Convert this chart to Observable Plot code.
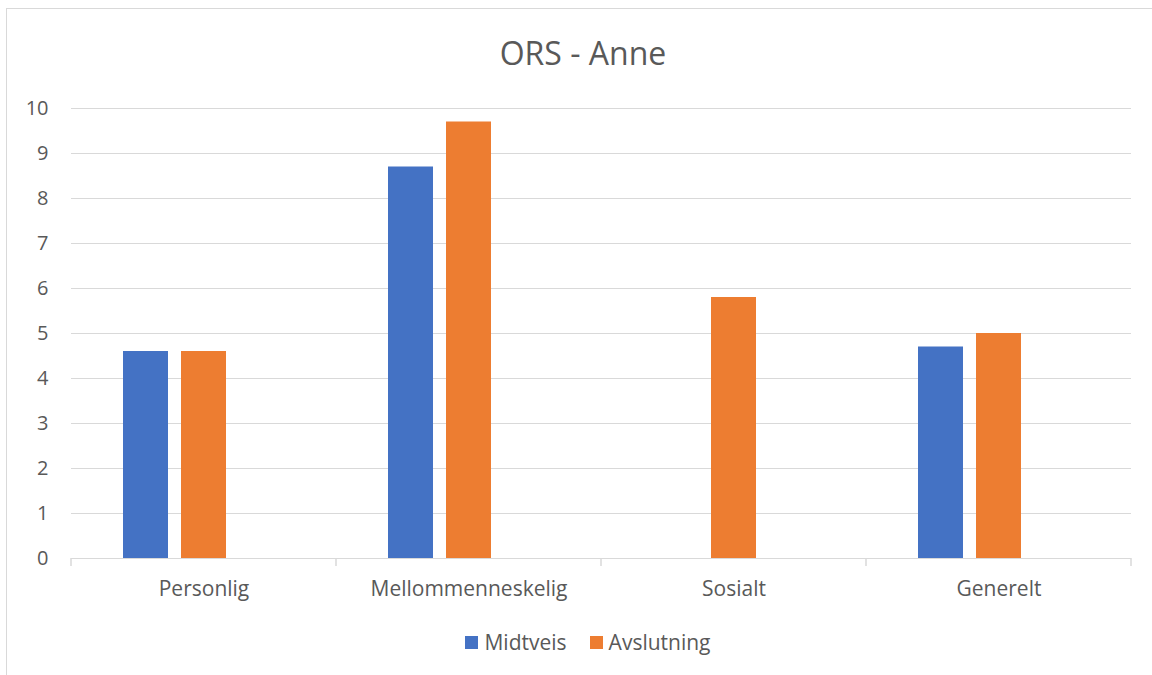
<!DOCTYPE html>
<html>
<head>
<meta charset="utf-8">
<script src="https://cdn.jsdelivr.net/npm/d3@7"></script>
<script src="https://cdn.jsdelivr.net/npm/@observablehq/plot@0.6"></script>
<style>
  body { margin: 0; background: #fff; font-family: "Open Sans", sans-serif; }
  #wrap { position: relative; width: 1152px; height: 675px; overflow: hidden; background: #fff; }
  #border { position: absolute; left: 6px; top: 8px; width: 1300px; height: 800px; border: 1px solid #d9d9d9; box-sizing: border-box; }
  #title { position: absolute; left: 0; width: 1166px; top: 33px; text-align: center; font-size: 32px; color: #595959; line-height: 40px; }
  #chart { position: absolute; left: 0; top: 0; }
  #legend { position: absolute; top: 629px; left: 0; width: 1176px; display: flex; justify-content: center; align-items: center; gap: 23px; font-size: 21px; color: #595959; line-height: 26px; }
  .item { display: flex; align-items: center; gap: 6px; }
  .sw { width: 13px; height: 13px; display: inline-block; }
</style>
</head>
<body>
<div id="wrap">
  <div id="border"></div>
  <div id="chart"></div>
  <div id="title"></div>
  <div id="legend"></div>
</div>
<script>
// ---- data ----
const chartTitle = "ORS - Anne";
const categories = ["Personlig", "Mellommenneskelig", "Sosialt", "Generelt"];
const seriesNames = ["Midtveis", "Avslutning"];
const midtveis = [4.6, 8.7, null, 4.7];
const avslutning = [4.6, 9.7, 5.8, 5.0];
const yTicks = [0, 1, 2, 3, 4, 5, 6, 7, 8, 9, 10];
const seriesColors = ["#4472C4", "#ED7D31"];
const emptySlot = ""; // unused third series slot kept by the original chart

const rows = [];
categories.forEach((c, i) => {
  if (midtveis[i] != null) rows.push({category: c, series: seriesNames[0], value: midtveis[i]});
  if (avslutning[i] != null) rows.push({category: c, series: seriesNames[1], value: avslutning[i]});
});

document.getElementById("title").textContent = chartTitle;

const plot = Plot.plot({
  width: 1152,
  height: 620,
  marginLeft: 71,
  marginRight: 21,
  marginTop: 108,
  marginBottom: 62,
  style: {fontFamily: "'Open Sans', sans-serif", fontSize: "20px", color: "#595959", background: "transparent", overflow: "visible"},
  fx: {domain: categories, padding: 0, label: null},
  x: {domain: [...seriesNames, emptySlot], paddingInner: 0.22, paddingOuter: 0.856, axis: null},
  y: {domain: [0, 10], label: null},
  color: {domain: seriesNames, range: seriesColors},
  marks: [
    Plot.gridY(yTicks, {stroke: "#d9d9d9", strokeOpacity: 1, strokeWidth: 1.2}),
    Plot.axisY(yTicks, {tickSize: 0, tickPadding: 23, fontSize: 20, fill: "#595959", label: null}),
    Plot.axisFx({anchor: "bottom", tickSize: 0, tickPadding: 23, fontSize: 21, fill: "#595959", label: null}),
    Plot.barY(rows, {fx: "category", x: "series", y: "value", fill: "series"})
  ]
});
document.getElementById("chart").appendChild(plot);

// category boundary tick marks under the baseline (Excel style), placed via Plot's fx and y scales
const fxs = plot.scale("fx");
const ys = plot.scale("y");
const edges = categories.map(c => fxs.apply(c));
edges.push(fxs.apply(categories[categories.length - 1]) + fxs.bandwidth);
const y0 = ys.apply(0);
d3.select(plot).append("g")
  .attr("stroke", "#d9d9d9").attr("stroke-width", 1.5)
  .selectAll("line").data(edges).join("line")
  .attr("x1", d => d).attr("x2", d => d)
  .attr("y1", y0).attr("y2", y0 + 8);

// legend
const legend = d3.select("#legend");
seriesNames.forEach((s, i) => {
  const it = legend.append("div").attr("class", "item");
  it.append("span").attr("class", "sw").style("background", seriesColors[i]);
  it.append("span").text(s);
});
</script>
</body>
</html>
